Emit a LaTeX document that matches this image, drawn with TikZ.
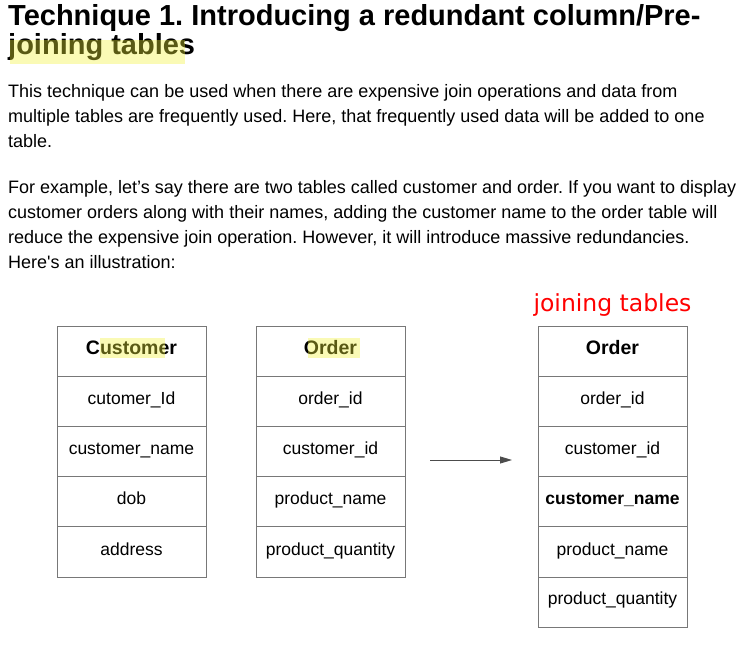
\documentclass[tikz,border=0pt]{standalone}
\usepackage{fontspec}
\setmainfont{Liberation Sans}[Ligatures=TeXOff]
\newfontfamily\redfont{DejaVu Sans}
\usepackage{tikz}
\usetikzlibrary{positioning,arrows.meta}
\definecolor{marker}{RGB}{242,242,56}
\definecolor{tableline}{RGB}{120,120,120}
\frenchspacing

\begin{document}
\begin{tikzpicture}[x=1pt,y=-1pt,
			heading/.style={anchor=base west, inner sep=0pt, font=\fontsize{29}{34}\selectfont\bfseries},
			bodyline/.style={anchor=base west, inner sep=0pt, font=\fontsize{18}{25}\selectfont},
			cell/.style={rectangle, draw=tableline, line width=1pt, minimum width=149pt, minimum height=50pt, inner sep=0pt, text height=12pt, text depth=6pt, font=\fontsize{17.5}{20}\selectfont},
			headcell/.style={cell, font=\fontsize{19.5}{22}\selectfont\bfseries},
			highlight/.style={fill=marker, fill opacity=0.37},
			]
			\useasboundingbox[fill=white] (0,0) rectangle (756,652);
			%Text
				\node[heading]		(title-1)	at (8,26)		{Technique 1. Introducing a redundant column/Pre-};
				\node[heading]		(title-2)	at (8,55)		{joining tables};
				\node[bodyline]		(text-1)	at (8,98)		{This technique can be used when there are expensive join operations and data from};
				\node[bodyline]		(text-2)	at (8,123)		{multiple tables are frequently used. Here, that frequently used data will be added to one};
				\node[bodyline]		(text-3)	at (8,148)		{table.};
				\node[bodyline]		(text-4)	at (8,194)		{For example, let’s say there are two tables called customer and order. If you want to display};
				\node[bodyline]		(text-5)	at (8,219)		{customer orders along with their names, adding the customer name to the order table will};
				\node[bodyline]		(text-6)	at (8,244)		{reduce the expensive join operation. However, it will introduce massive redundancies.};
				\node[bodyline]		(text-7)	at (8,269)		{Here's an illustration:};
				\node[anchor=base, inner sep=0pt, text=red, font=\redfont\fontsize{23.5}{26}\selectfont]	(note)	at (612.5,312)	{joining tables};

			%Nodes
				\node[headcell]		(cust-1)		at (131.5,352)		{Customer};
				\node[cell]			(cust-2)		at (131.5,402)		{cutomer\_Id};
				\node[cell]			(cust-3)		at (131.5,452)		{customer\_name};
				\node[cell]			(cust-4)		at (131.5,502)		{dob};
				\node[cell]			(cust-5)		at (131.5,552)		{address};
				\node[headcell]		(order-1)		at (330.5,352)		{Order};
				\node[cell]			(order-2)		at (330.5,402)		{order\_id};
				\node[cell]			(order-3)		at (330.5,452)		{customer\_id};
				\node[cell]			(order-4)		at (330.5,502)		{product\_name};
				\node[cell]			(order-5)		at (330.5,552)		{product\_quantity};
				\node[headcell]		(join-1)		at (612.5,352)		{Order};
				\node[cell]			(join-2)		at (612.5,402)		{order\_id};
				\node[cell]			(join-3)		at (612.5,452)		{customer\_id};
				\node[cell, font=\fontsize{17.5}{20}\selectfont\bfseries]	(join-4)	at (612.5,502)	{customer\_name};
				\node[cell]			(join-5)		at (612.5,552)		{product\_name};
				\node[cell]			(join-6)		at (612.5,602)		{product\_quantity};

			%Marker
				\fill[highlight] (10,40) rectangle (185,64);
				\fill[highlight] (100,338) rectangle (165,358);
				\fill[highlight] (308,338) rectangle (360,358);

			%Lines
				\coordinate (arr-a) at (430,460);
				\coordinate (arr-b) at (512,460);
				\draw[line width=0.9pt, draw=black!70, -{Triangle[length=12pt,width=7pt]}] (arr-a) -- (arr-b);
		\end{tikzpicture}
\end{document}
